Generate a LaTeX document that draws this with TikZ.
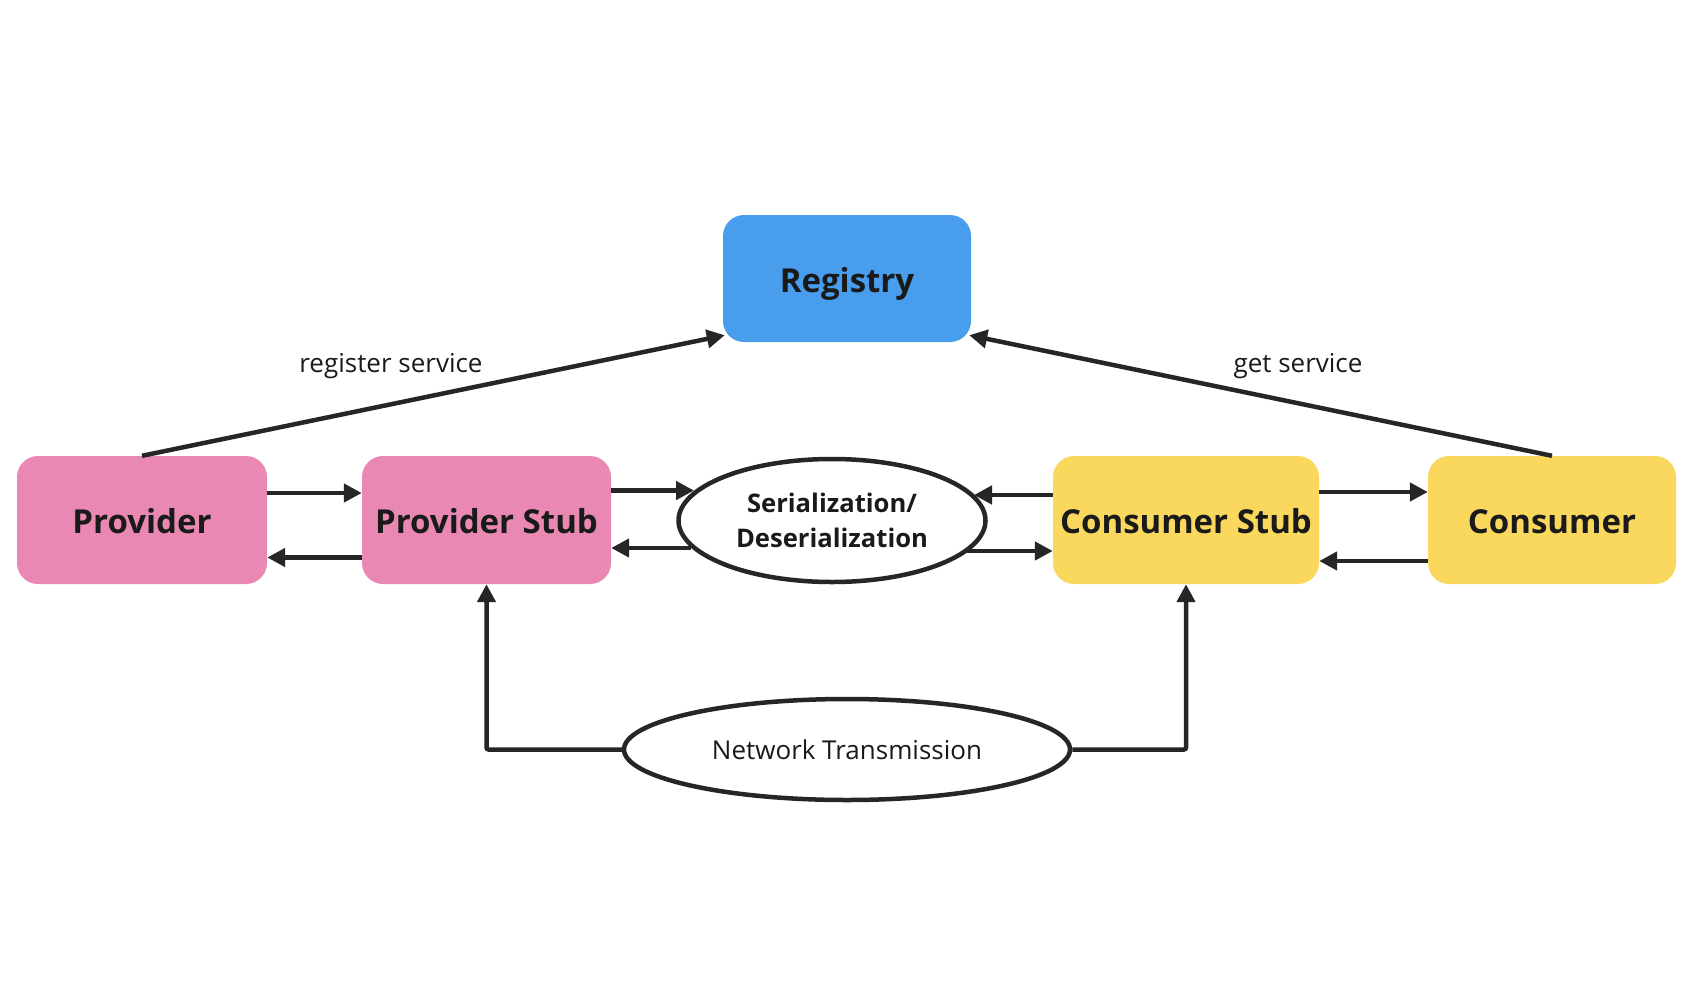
\documentclass[tikz,border=0pt]{standalone}
\usepackage{fontspec}
\setmainfont{Open Sans}
\usetikzlibrary{shapes.geometric,arrows.meta,calc}
\definecolor{pinkbox}{HTML}{E989B3}
\definecolor{bluebox}{HTML}{489DED}
\definecolor{yellowbox}{HTML}{FAD85E}
\definecolor{ink}{HTML}{262626}
\definecolor{txt}{HTML}{1A1A1A}
\tikzset{
  box/.style={rectangle, rounded corners=21pt, inner sep=0pt, minimum height=128pt,
    text height=33pt, text depth=6pt,
    text=txt, font=\bfseries\fontsize{33}{40}\selectfont},
  oval/.style={ellipse, draw=ink, line width=4.5pt, fill=white, inner sep=0pt, text=txt},
  conn/.style={draw=ink, line width=4.5pt, -{Triangle[length=18pt,width=18pt]}},
  lbl/.style={text=txt, font=\fontsize{26}{30}\selectfont, inner sep=0pt}
}
\begin{document}
\begin{tikzpicture}[x=1pt,y=-1pt]
\useasboundingbox (0,0) rectangle (1694,996);
\fill[white] (0,0) rectangle (1694,996);

\node[box, fill=pinkbox, minimum width=250pt] (prov) at (142,520) {Provider};
\node[box, fill=pinkbox, minimum width=249pt] (ps) at (486.5,520) {Provider Stub};
\node[box, fill=bluebox, minimum width=248pt, minimum height=127pt] (reg) at (847,278.5) {Registry};
\node[box, fill=yellowbox, minimum width=266pt] (cs) at (1186,520) {Consumer Stub};
\node[box, fill=yellowbox, minimum width=248pt] (cons) at (1552,520) {Consumer};

\node[oval, minimum width=307pt, minimum height=123pt, align=center,
  font=\bfseries\fontsize{25.6}{35.5}\selectfont] (ser) at (832,520.5) {Serialization/\\Deserialization};
\node[oval, minimum width=446pt, minimum height=101pt,
  font=\fontsize{26}{30}\selectfont] (net) at (847,749.5) {Network Transmission};

% registry connections
\draw[conn] (prov.north) -- ($(reg.south west)+(2,-7)$);
\draw[conn] (cons.north) -- ($(reg.south east)+(-2,-7)$);
\node[lbl] (lreg) at (391,366) {register service};
\node[lbl] (lget) at (1298,366) {get service};

% provider <-> provider stub
\draw[conn] (prov.east |- 0,493) -- (ps.west |- 0,493);
\draw[conn] (ps.west |- 0,557.5) -- (prov.east |- 0,557.5);

% provider stub <-> serialization
\draw[conn] (ps.east |- 0,490.5) -- ($(ser.center)+(-138,-30)$);
\draw[conn] ($(ser.center)+(-141,27.5)$) -- (ps.east |- 0,548);

% consumer stub <-> serialization
\draw[conn] (cs.west |- 0,495) -- ($(ser.center)+(142,-25.5)$);
\draw[conn] ($(ser.center)+(135,30.5)$) -- (cs.west |- 0,551);

% consumer stub <-> consumer
\draw[conn] (cs.east |- 0,492) -- (cons.west |- 0,492);
\draw[conn] (cons.west |- 0,561) -- (cs.east |- 0,561);

% network transmission
\draw[conn, rounded corners=2pt] (net.west) -| (ps.south);
\draw[conn, rounded corners=2pt] (net.east) -| (cs.south);
\end{tikzpicture}
\end{document}
